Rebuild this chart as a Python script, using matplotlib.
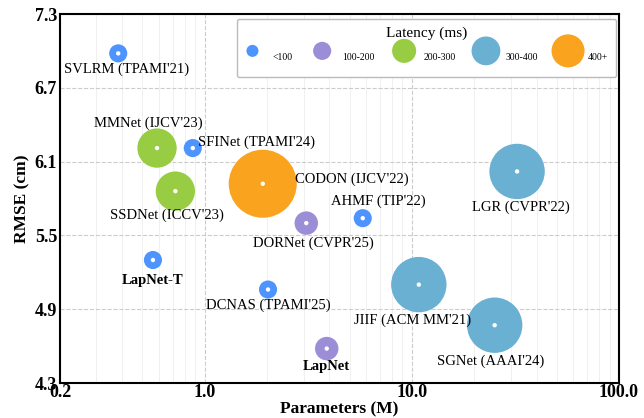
import numpy as np
import matplotlib.pyplot as plt

plt.rcParams['font.family'] = ['Liberation Serif', 'DejaVu Serif']

names = ["SVLRM (TPAMI'21)", "MMNet (IJCV'23)", "SFINet (TPAMI'24)", "SSDNet (ICCV'23)",
         "CODON (IJCV'22)", "DORNet (CVPR'25)", "AHMF (TIP'22)", "LGR (CVPR'22)",
         "JIIF (ACM MM'21)", "SGNet (AAAI'24)", "DCNAS (TPAMI'25)", "LapNet", "LapNet-T"]
params = [0.382, 0.588, 0.875, 0.721, 1.905, 3.09, 5.79, 32.2, 10.8, 25.1, 2.02, 3.88, 0.562]
rmse = [6.98, 6.21, 6.21, 5.86, 5.92, 5.60, 5.64, 6.02, 5.10, 4.77, 5.06, 4.58, 5.30]
latency = [0, 2, 0, 2, 4, 1, 0, 3, 3, 3, 0, 1, 0]  # index into latency groups

lat_labels = ["<100", "100-200", "200-300", "300-400", "400+"]
lat_colors = ["#4D94FF", "#9B8ED6", "#98CC43", "#6AB0D3", "#F9A31F"]
lat_sizes = [170, 285, 800, 1590, 2400]
leg_sizes = [75, 170, 300, 430, 565]

# label offsets in pixels and alignment
offsets = [(8, -16, 'center'), (-9, 25, 'center'), (5, 6, 'left'), (-8, -24, 'center'),
           (32, 4, 'left'), (7, -20, 'center'), (16, 17, 'center'), (4, -36, 'center'),
           (-6, -36, 'center'), (-4, -36, 'center'), (0, -16, 'center'), (0, -18, 'center'),
           (0, -20, 'center')]

fig = plt.figure(figsize=(6.44, 4.18), dpi=100)
ax = fig.add_axes([0.0932, 0.0837, 0.868, 0.8828])

for i in range(len(names)):
    k = latency[i]
    ax.scatter(params[i], rmse[i], s=lat_sizes[k], c=lat_colors[k], edgecolors='none', zorder=3)
    ax.scatter(params[i], rmse[i], s=10, c='white', edgecolors='none', zorder=4)
    dx, dy, ha = offsets[i]
    bold = names[i].startswith("LapNet")
    ax.annotate(names[i], (params[i], rmse[i]), xytext=(dx, dy), textcoords='offset pixels',
                ha=ha, va='center', fontsize=10.5, fontweight='bold' if bold else 'normal', zorder=5)

ax.set_xscale('log')
ax.set_xlim(0.2, 100)
ax.set_ylim(4.3, 7.3)
ax.set_xticks([0.2, 1, 10, 100])
ax.set_xticklabels(["0.2", "1.0", "10.0", "100.0"])
ax.set_yticks([4.3, 4.9, 5.5, 6.1, 6.7, 7.3])
ax.set_yticklabels(["4.3", "4.9", "5.5", "6.1", "6.7", "7.3"])
ax.tick_params(which='both', length=0, labelsize=13)
ax.tick_params(axis='x', pad=1)
ax.tick_params(axis='y', pad=2)
for lab in ax.get_xticklabels() + ax.get_yticklabels():
    lab.set_fontweight('bold')
ax.set_xlabel("Parameters (M)", fontsize=12.5, fontweight='bold', labelpad=0)
ax.set_ylabel("RMSE (cm)", fontsize=12.5, fontweight='bold', labelpad=3)

ax.grid(which='major', linestyle='--', color='#cccccc', linewidth=0.8, zorder=0)
ax.grid(which='minor', axis='x', linestyle='-', color='#eeeeee', linewidth=0.6, zorder=0)
ax.set_axisbelow(True)
for sp in ax.spines.values():
    sp.set_linewidth(1.5)

handles = []
for k in range(5):
    handles.append(ax.scatter([], [], s=leg_sizes[k], c=lat_colors[k], edgecolors='none'))
leg = ax.legend(handles, lat_labels, title="Latency (ms)", ncol=5, loc='upper right',
                fontsize=7, title_fontsize=11, frameon=True, fancybox=True,
                borderpad=0.8, columnspacing=2.3, handletextpad=1.3,
                handlelength=1.5, handleheight=3.4, borderaxespad=0,
                bbox_to_anchor=(0.9946, 0.9864), framealpha=1)
leg.get_frame().set_edgecolor('#bbbbbb')

fig.savefig("out.png", dpi=100)
